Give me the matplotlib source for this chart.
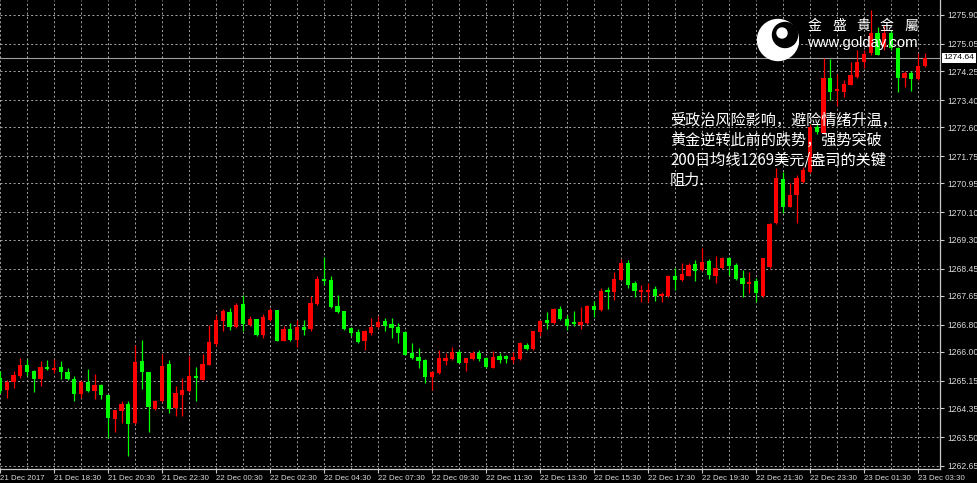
import numpy as np
import matplotlib
matplotlib.use("Agg")
import matplotlib.pyplot as plt
import matplotlib.transforms as mtransforms
from matplotlib.patches import Circle

plt.rcParams['font.family'] = ['Liberation Sans', 'DejaVu Sans']

# 15-minute XAUUSD bars, 21 Dec 2017 16:30 -> 23 Dec 03:45 (bar index on x)
opens = [1265.23, 1264.89, 1265.13, 1265.30, 1265.62, 1265.43, 1265.20, 1265.55, 1265.48, 1265.55,
         1265.42, 1265.21, 1264.76, 1265.11, 1264.86, 1265.03, 1264.74, 1264.03, 1264.25, 1264.47,
         1263.91, 1265.72, 1265.42, 1264.32, 1264.55, 1265.65, 1264.35, 1264.74, 1264.84, 1265.30,
         1265.18, 1265.62, 1266.24, 1266.90, 1267.17, 1266.72, 1267.42, 1266.80, 1266.98, 1266.49,
         1266.93, 1267.22, 1266.33, 1266.66, 1266.34, 1266.73, 1266.66, 1267.42, 1268.13, 1268.10,
         1267.36, 1267.20, 1266.69, 1266.59, 1266.33, 1266.56, 1266.73, 1266.90, 1266.83, 1266.73,
         1266.58, 1265.97, 1265.85, 1265.76, 1265.27, 1265.38, 1265.73, 1265.78, 1266.00, 1265.66,
         1265.78, 1265.97, 1265.81, 1265.53, 1265.87, 1265.87, 1265.77, 1265.79, 1266.21, 1266.09,
         1266.58, 1266.95, 1266.85, 1267.27, 1266.97, 1266.89, 1266.78, 1266.85, 1267.36, 1267.22,
         1267.81, 1267.75, 1268.12, 1268.61, 1268.02, 1267.77, 1267.77, 1267.85, 1267.63, 1267.63,
         1268.24, 1268.10, 1268.24, 1268.59, 1268.40, 1268.66, 1268.24, 1268.46, 1268.76, 1268.56,
         1268.16, 1268.01, 1268.08, 1267.64, 1268.50, 1269.78, 1271.07, 1270.27, 1270.61, 1271.00,
         1271.30, 1272.62, 1272.42, 1274.04, 1273.68, 1273.65, 1273.84, 1274.07, 1274.53, 1274.77,
         1275.36, 1274.97, 1275.36, 1274.92, 1274.04, 1274.19, 1274.01, 1274.40]
highs = [1265.45, 1265.18, 1265.43, 1265.82, 1265.80, 1265.48, 1265.72, 1265.77, 1265.80, 1265.72,
         1265.52, 1265.30, 1265.18, 1265.50, 1265.36, 1265.06, 1264.76, 1264.30, 1264.55, 1264.55,
         1266.21, 1266.36, 1265.42, 1264.60, 1265.95, 1265.77, 1264.99, 1265.23, 1265.87, 1265.55,
         1265.95, 1266.80, 1267.09, 1267.26, 1267.29, 1267.44, 1267.68, 1267.05, 1266.98, 1267.10,
         1267.29, 1267.24, 1266.77, 1266.85, 1266.95, 1266.95, 1267.64, 1268.22, 1268.79, 1268.22,
         1267.68, 1267.21, 1266.73, 1266.66, 1266.64, 1267.00, 1267.05, 1267.00, 1267.00, 1266.85,
         1266.61, 1266.25, 1266.12, 1265.78, 1265.43, 1266.07, 1265.97, 1266.15, 1266.07, 1265.83,
         1266.02, 1266.07, 1265.85, 1266.02, 1265.97, 1265.92, 1265.99, 1266.28, 1266.26, 1266.62,
         1266.95, 1267.16, 1267.29, 1267.36, 1267.09, 1267.19, 1267.32, 1267.39, 1267.49, 1267.88,
         1267.90, 1268.34, 1268.73, 1268.71, 1268.07, 1267.97, 1268.02, 1267.93, 1267.75, 1268.27,
         1268.46, 1268.61, 1268.61, 1268.71, 1269.05, 1268.73, 1268.83, 1268.79, 1268.79, 1268.61,
         1268.41, 1268.36, 1268.16, 1268.77, 1269.78, 1271.39, 1271.29, 1270.95, 1271.20, 1271.44,
         1272.70, 1272.70, 1274.63, 1274.60, 1274.17, 1273.99, 1274.53, 1274.87, 1274.87, 1276.05,
         1275.56, 1275.61, 1275.46, 1274.97, 1274.24, 1274.24, 1274.77, 1274.79]
lows = [1264.80, 1264.64, 1264.94, 1265.23, 1265.28, 1264.81, 1265.01, 1265.48, 1265.38, 1265.20,
        1265.18, 1264.55, 1264.64, 1264.83, 1264.62, 1264.62, 1263.47, 1263.65, 1263.91, 1262.95,
        1263.89, 1264.92, 1263.66, 1264.30, 1264.52, 1264.20, 1264.11, 1264.11, 1264.81, 1264.55,
        1265.18, 1265.62, 1266.18, 1266.60, 1266.65, 1266.70, 1266.60, 1266.75, 1266.46, 1266.41,
        1266.90, 1266.31, 1266.31, 1266.31, 1266.15, 1266.51, 1266.61, 1267.39, 1267.98, 1267.29,
        1267.15, 1266.64, 1266.46, 1266.27, 1266.07, 1266.51, 1266.71, 1266.61, 1266.41, 1266.27,
        1265.90, 1265.80, 1265.53, 1265.09, 1264.89, 1265.34, 1265.63, 1265.76, 1265.66, 1265.43,
        1265.76, 1265.73, 1265.53, 1265.53, 1265.67, 1265.67, 1265.67, 1265.77, 1266.07, 1266.07,
        1266.46, 1266.68, 1266.83, 1266.95, 1266.63, 1266.75, 1266.68, 1266.83, 1267.02, 1267.19,
        1267.27, 1267.53, 1268.10, 1267.88, 1267.61, 1267.48, 1267.48, 1267.51, 1267.48, 1267.61,
        1267.81, 1268.07, 1268.22, 1268.07, 1268.37, 1268.14, 1268.02, 1268.44, 1268.27, 1268.12,
        1267.62, 1267.72, 1267.48, 1267.62, 1268.48, 1269.76, 1270.07, 1270.25, 1269.78, 1270.95,
        1271.25, 1272.40, 1272.40, 1273.40, 1273.23, 1273.50, 1273.84, 1274.04, 1274.33, 1274.72,
        1274.72, 1274.87, 1274.87, 1273.65, 1273.79, 1273.68, 1273.99, 1274.38]
closes = [1264.84, 1265.13, 1265.33, 1265.62, 1265.40, 1265.21, 1265.55, 1265.50, 1265.53, 1265.40,
          1265.20, 1264.76, 1265.11, 1264.86, 1265.04, 1264.73, 1264.07, 1264.28, 1264.48, 1263.89,
          1265.70, 1265.41, 1264.37, 1264.55, 1265.59, 1264.32, 1264.79, 1264.89, 1265.30, 1265.24,
          1265.65, 1266.29, 1266.95, 1267.19, 1266.72, 1267.39, 1266.83, 1266.97, 1266.49, 1267.03,
          1267.24, 1266.33, 1266.66, 1266.36, 1266.73, 1266.64, 1267.44, 1268.13, 1268.08, 1267.32,
          1267.17, 1266.66, 1266.56, 1266.29, 1266.61, 1266.73, 1266.87, 1266.77, 1266.71, 1266.56,
          1265.92, 1265.82, 1265.73, 1265.27, 1265.40, 1265.82, 1265.82, 1266.00, 1265.68, 1265.81,
          1265.97, 1265.80, 1265.56, 1265.85, 1265.77, 1265.79, 1265.85, 1266.26, 1266.09, 1266.60,
          1266.90, 1266.85, 1267.27, 1266.97, 1266.75, 1266.83, 1266.88, 1267.36, 1267.22, 1267.78,
          1267.75, 1268.14, 1268.61, 1267.97, 1267.78, 1267.83, 1267.83, 1267.63, 1267.70, 1268.24,
          1268.10, 1268.30, 1268.56, 1268.37, 1268.64, 1268.27, 1268.46, 1268.76, 1268.53, 1268.14,
          1268.01, 1268.06, 1267.72, 1268.75, 1269.76, 1271.10, 1270.27, 1270.61, 1271.10, 1271.34,
          1272.62, 1272.47, 1274.04, 1273.65, 1273.72, 1273.87, 1274.14, 1274.53, 1274.75, 1275.36,
          1274.72, 1275.36, 1274.92, 1274.04, 1274.19, 1274.01, 1274.40, 1274.64]

time_labels = ["21 Dec 2017", "21 Dec 18:30", "21 Dec 20:30", "21 Dec 22:30", "22 Dec 00:30",
               "22 Dec 02:30", "22 Dec 04:30", "22 Dec 07:30", "22 Dec 09:30", "22 Dec 11:30",
               "22 Dec 13:30", "22 Dec 15:30", "22 Dec 17:30", "22 Dec 19:30", "22 Dec 21:30",
               "22 Dec 23:30", "23 Dec 01:30", "23 Dec 03:30"]
price_ticks = [1262.65, 1263.50, 1264.35, 1265.15, 1266.00, 1266.80, 1267.65, 1268.45, 1269.30,
               1270.10, 1270.95, 1271.75, 1272.60, 1273.40, 1274.25, 1275.05, 1275.90]
last_price = 1274.64

note_lines = ["受政治风险影响，避险情绪升温，",
              "黄金逆转此前的跌势，强势突破",
              "200日均线1269美元/盎司的关键",
              "阻力."]

W, H = 977, 483
fig = plt.figure(figsize=(W / 100, H / 100), dpi=100, facecolor='black')
ax = fig.add_axes([0, 1 - 469 / H, 940 / W, 469 / H], facecolor='black')

o = np.array(opens); c = np.array(closes)
hi = np.array(highs); lo = np.array(lows)
x = np.arange(len(o))
up = c >= o
cols = np.where(up, '#ff0000', '#00ff00')

ax.vlines(x, lo, hi, colors=cols, linewidth=0.9, zorder=3)
body_lo = np.minimum(o, c)
body_h = np.maximum(np.abs(c - o), 0.03)
ax.bar(x, body_h, bottom=body_lo, width=0.62, color=cols, edgecolor='none', zorder=4)

# last price line + box
ax.axhline(last_price, color='#a0a0a0', linewidth=0.8, zorder=2)
tr = mtransforms.blended_transform_factory(ax.transAxes, ax.transData)
ax.text(1.004, last_price, f"{last_price:.2f}", transform=tr, ha='left', va='center',
        fontsize=6.1, color='black', clip_on=False,
        bbox=dict(fc='white', ec='none', pad=1.0), zorder=10)

ax.set_xlim(0, 940 / 6.75)
ax.set_ylim(1262.56, 1276.34)

ax.set_xticks(np.arange(0, len(time_labels) * 8, 8))
ax.set_xticklabels(time_labels, ha='left')
ax.set_xticks(np.arange(4, len(o), 8), minor=True)
ax.set_yticks(price_ticks)
ax.set_yticklabels([f"{p:.2f}" for p in price_ticks])

ax.yaxis.tick_right()
ax.tick_params(axis='y', which='major', direction='out', length=3, width=0.8, pad=2,
               colors='#c8c8c8', labelsize=6.2, labelcolor='#d8d8d8')
ax.tick_params(axis='x', which='major', direction='out', length=3, width=0.8, pad=1.5,
               colors='#c8c8c8', labelsize=5.7, labelcolor='#d8d8d8')
ax.tick_params(axis='x', which='minor', length=0)

ax.set_axisbelow(True)
grid_kw = dict(color='#a8a8a8', linewidth=0.7, linestyle=(0, (2, 2.5)))
ax.grid(axis='x', which='both', **grid_kw)
ax.grid(axis='y', which='major', **grid_kw)

for side in ['top', 'left']:
    ax.spines[side].set_visible(False)
for side in ['right', 'bottom']:
    ax.spines[side].set_color('#c8c8c8')
    ax.spines[side].set_linewidth(0.9)

# annotation
for k, line in enumerate(note_lines):
    fig.text(670 / W, 1 - (120 + 20 * k) / H, line, color='white', fontsize=10.9,
             family=['Noto Sans CJK SC', 'DejaVu Sans'], ha='left', va='center', zorder=20)

# logo
lax = fig.add_axes([757 / W, 1 - 62 / H, 42 / W, 44 / H])
lax.set_xlim(0, 42); lax.set_ylim(0, 44); lax.axis('off')
lax.patch.set_alpha(0)
lax.add_patch(Circle((21, 22), 20.5, color='white'))
lax.add_patch(Circle((28, 27), 12.5, color='black'))
lax.add_patch(Circle((25, 29), 5, color='white'))

for ch, cx in zip("金盛貴金屬", [815, 839, 863, 887, 911]):
    fig.text(cx / W, 1 - 26 / H, ch, color='white', fontsize=10,
             family=['Noto Sans CJK TC', 'DejaVu Sans'], ha='center', va='center', zorder=20)
fig.text(807 / W, 1 - 43 / H, "www.golday.com", color='white', fontsize=10.7,
         ha='left', va='center', zorder=20)

fig.savefig("out.png", dpi=100, facecolor='black')
